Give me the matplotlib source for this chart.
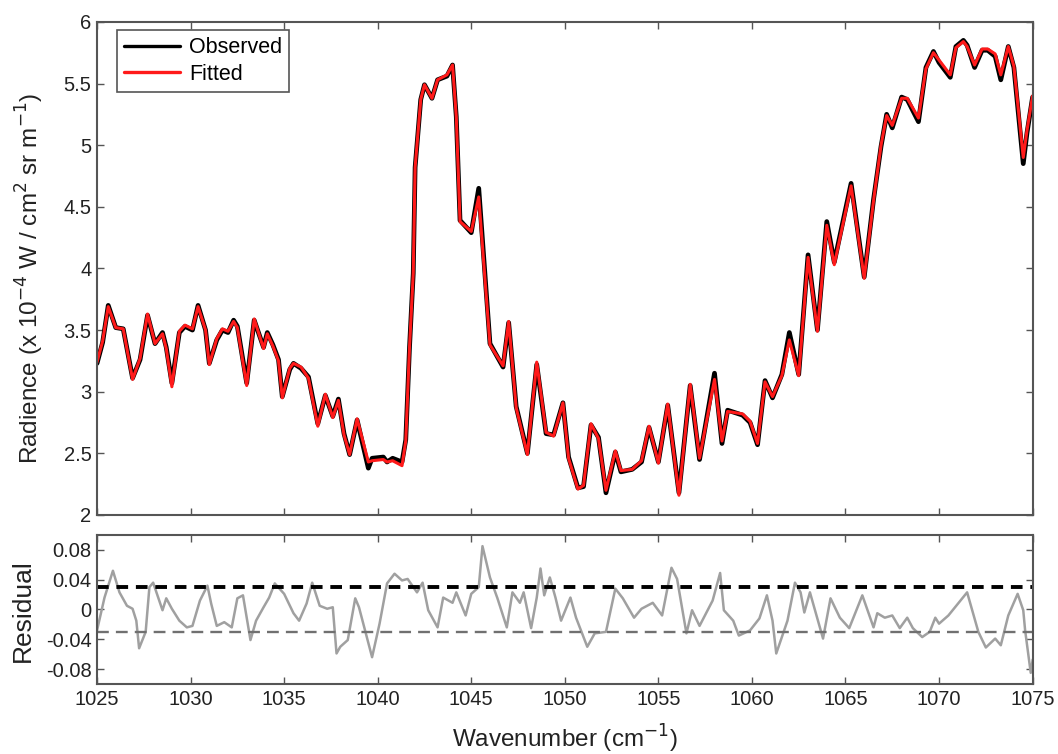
import matplotlib.pyplot as plt

plt.rcParams['font.family'] = ['Liberation Sans', 'DejaVu Sans']

# spectrum (wavenumber in cm^-1, radiance in 1e-4 W / cm^2 sr m^-1)
wn = [1025.0, 1025.3, 1025.6, 1026.0, 1026.4, 1026.9, 1027.3, 1027.7, 1028.1, 1028.5,
      1028.7, 1029.0, 1029.4, 1029.7, 1030.1, 1030.4, 1030.8, 1031.0, 1031.4, 1031.7,
      1032.0, 1032.3, 1032.5, 1033.0, 1033.4, 1033.9, 1034.1, 1034.4, 1034.7, 1034.9,
      1035.3, 1035.5, 1035.9, 1036.3, 1036.8, 1037.2, 1037.6, 1037.9, 1038.2, 1038.5,
      1038.9, 1039.5, 1039.7, 1040.3, 1040.5, 1040.8, 1041.3, 1041.5, 1041.7, 1041.9,
      1042.0, 1042.3, 1042.5, 1042.9, 1043.2, 1043.7, 1044.0, 1044.2, 1044.4, 1045.0,
      1045.4, 1046.0, 1046.7, 1047.0, 1047.4, 1048.0, 1048.5, 1049.0, 1049.4, 1049.9,
      1050.2, 1050.7, 1051.0, 1051.4, 1051.8, 1052.2, 1052.7, 1053.0, 1053.6, 1054.1,
      1054.5, 1055.0, 1055.5, 1056.1, 1056.7, 1057.2, 1058.0, 1058.4, 1058.7, 1059.5,
      1059.9, 1060.3, 1060.7, 1061.1, 1061.6, 1062.0, 1062.5, 1063.0, 1063.5, 1064.0,
      1064.4, 1065.3, 1066.0, 1066.5, 1066.9, 1067.2, 1067.5, 1068.0, 1068.3, 1068.9,
      1069.3, 1069.7, 1070.0, 1070.6, 1070.9, 1071.3, 1071.5, 1071.9, 1072.3, 1072.6,
      1073.0, 1073.3, 1073.7, 1074.0, 1074.5, 1074.7, 1075.0]

observed = [3.23, 3.40, 3.70, 3.52, 3.51, 3.11, 3.26, 3.62, 3.39, 3.48,
            3.36, 3.07, 3.48, 3.53, 3.50, 3.70, 3.50, 3.23, 3.42, 3.50,
            3.48, 3.58, 3.53, 3.07, 3.58, 3.36, 3.48, 3.38, 3.26, 2.96,
            3.18, 3.23, 3.19, 3.12, 2.74, 2.97, 2.80, 2.94, 2.66, 2.49,
            2.77, 2.38, 2.46, 2.47, 2.43, 2.46, 2.43, 2.61, 3.36, 3.96,
            4.82, 5.37, 5.49, 5.38, 5.53, 5.56, 5.65, 5.23, 4.39, 4.29,
            4.65, 3.39, 3.20, 3.56, 2.88, 2.50, 3.22, 2.66, 2.65, 2.91,
            2.47, 2.22, 2.23, 2.73, 2.63, 2.18, 2.51, 2.35, 2.37, 2.43,
            2.71, 2.43, 2.89, 2.18, 3.05, 2.45, 3.15, 2.58, 2.85, 2.81,
            2.75, 2.57, 3.09, 2.95, 3.14, 3.48, 3.14, 4.11, 3.50, 4.38,
            4.05, 4.69, 3.93, 4.56, 4.99, 5.25, 5.14, 5.39, 5.37, 5.19,
            5.63, 5.76, 5.67, 5.55, 5.80, 5.85, 5.81, 5.63, 5.77, 5.77,
            5.72, 5.53, 5.80, 5.63, 4.85, 5.10, 5.39]

fitted = [3.24, 3.41, 3.69, 3.52, 3.51, 3.10, 3.27, 3.63, 3.39, 3.47,
          3.35, 3.04, 3.49, 3.54, 3.51, 3.69, 3.50, 3.22, 3.43, 3.51,
          3.49, 3.57, 3.52, 3.05, 3.59, 3.35, 3.47, 3.37, 3.25, 2.95,
          3.19, 3.23, 3.20, 3.11, 2.72, 2.98, 2.79, 2.93, 2.65, 2.49,
          2.78, 2.43, 2.44, 2.45, 2.43, 2.44, 2.40, 2.60, 3.36, 3.96,
          4.82, 5.37, 5.49, 5.38, 5.53, 5.57, 5.65, 5.23, 4.38, 4.30,
          4.58, 3.38, 3.21, 3.57, 2.87, 2.49, 3.24, 2.67, 2.64, 2.91,
          2.46, 2.21, 2.24, 2.74, 2.62, 2.20, 2.52, 2.36, 2.37, 2.44,
          2.72, 2.42, 2.90, 2.16, 3.06, 2.46, 3.10, 2.60, 2.84, 2.82,
          2.76, 2.58, 3.08, 2.96, 3.13, 3.42, 3.13, 4.09, 3.49, 4.35,
          4.03, 4.67, 3.92, 4.55, 5.00, 5.24, 5.16, 5.38, 5.38, 5.22,
          5.62, 5.75, 5.69, 5.57, 5.79, 5.84, 5.80, 5.65, 5.78, 5.78,
          5.74, 5.57, 5.80, 5.64, 4.90, 5.12, 5.40]

# residual
res_wn = [1025.0, 1025.4, 1025.85, 1026.2, 1026.6, 1026.9, 1027.1, 1027.25, 1027.6, 1027.8,
          1028.0, 1028.5, 1028.7, 1029.0, 1029.4, 1029.8, 1030.1, 1030.5, 1030.9, 1031.1,
          1031.4, 1031.8, 1032.2, 1032.5, 1032.8, 1033.2, 1033.5, 1033.9, 1034.2, 1034.5,
          1035.0, 1035.5, 1035.8, 1036.2, 1036.5, 1036.9, 1037.3, 1037.6, 1037.8, 1038.0,
          1038.4, 1038.8, 1039.0, 1039.7, 1040.1, 1040.5, 1040.9, 1041.3, 1041.6, 1042.1,
          1042.4, 1042.7, 1043.2, 1043.5, 1044.0, 1044.2, 1044.7, 1045.0, 1045.4, 1045.6,
          1046.0, 1046.4, 1046.9, 1047.2, 1047.6, 1047.8, 1048.2, 1048.5, 1048.7, 1048.9,
          1049.2, 1049.5, 1049.8, 1050.3, 1050.6, 1051.2, 1051.6, 1052.2, 1052.7, 1053.1,
          1053.7, 1054.1, 1054.7, 1055.2, 1055.7, 1056.0, 1056.5, 1056.8, 1057.2, 1057.9,
          1058.3, 1058.5, 1059.0, 1059.3, 1059.9, 1060.4, 1060.8, 1061.1, 1061.3, 1061.9,
          1062.3, 1062.6, 1062.8, 1063.1, 1063.8, 1064.2, 1064.7, 1065.2, 1065.9, 1066.5,
          1066.7, 1067.1, 1067.5, 1067.9, 1068.3, 1068.6, 1069.1, 1069.5, 1069.8, 1070.0,
          1070.5, 1071.5, 1072.1, 1072.5, 1073.0, 1073.3, 1073.7, 1074.2, 1074.5, 1074.6,
          1074.9, 1075.0]

residual = [-0.028, 0.016, 0.052, 0.023, 0.005, 0.001, -0.015, -0.052, -0.030, 0.030,
            0.036, -0.001, 0.015, 0.001, -0.015, -0.024, -0.022, 0.012, 0.032, 0.008,
            -0.022, -0.017, -0.024, 0.015, 0.019, -0.041, -0.015, 0.003, 0.016, 0.035,
            0.021, -0.005, -0.015, 0.008, 0.036, 0.005, 0.001, 0.003, -0.059, -0.050,
            -0.041, 0.015, 0.003, -0.064, -0.019, 0.035, 0.048, 0.039, 0.041, 0.023,
            0.036, -0.001, -0.024, 0.016, 0.009, 0.023, -0.008, 0.021, 0.030, 0.085,
            0.043, 0.015, -0.024, 0.023, 0.009, 0.023, -0.025, 0.016, 0.055, 0.019,
            0.043, 0.016, -0.015, 0.016, -0.011, -0.050, -0.032, -0.030, 0.028, 0.015,
            -0.011, 0.001, 0.009, -0.008, 0.056, 0.041, -0.032, -0.001, -0.022, 0.012,
            0.049, -0.001, -0.015, -0.035, -0.028, -0.012, 0.019, -0.015, -0.059, -0.015,
            0.036, 0.023, -0.004, 0.023, -0.039, 0.015, -0.011, -0.025, 0.019, -0.024,
            -0.005, -0.011, -0.008, -0.025, -0.011, -0.025, -0.037, -0.030, -0.011, -0.019,
            -0.008, 0.023, -0.030, -0.051, -0.039, -0.048, -0.008, 0.021, -0.001, -0.028,
            -0.085, -0.068]

upper_lim = 0.03
lower_lim = -0.03

x_ticks = [1025, 1030, 1035, 1040, 1045, 1050, 1055, 1060, 1065, 1070, 1075]
rad_ticks = [2, 2.5, 3, 3.5, 4, 4.5, 5, 5.5, 6]
rad_labels = ['2', '2.5', '3', '3.5', '4', '4.5', '5', '5.5', '6']
res_ticks = [-0.08, -0.04, 0, 0.04, 0.08]
res_labels = ['-0.08', '-0.04', '0', '0.04', '0.08']

spine_col = '#555555'
txt_col = '#222222'
fig = plt.figure(figsize=(10.58, 7.54), dpi=100)
ax1 = fig.add_axes([0.0917, 0.317, 0.8843, 0.654])
ax2 = fig.add_axes([0.0917, 0.0928, 0.8843, 0.1977])

ax1.plot(wn, observed, color='black', lw=3.4, label='Observed',
         solid_joinstyle='round', solid_capstyle='round')
ax1.plot(wn, fitted, color='#ff1a1a', lw=2.2, label='Fitted',
         solid_joinstyle='round', solid_capstyle='round')
ax1.set_xlim(1025, 1075)
ax1.set_ylim(2, 6)
ax1.set_xticks(x_ticks)
ax1.set_xticklabels([])
ax1.set_yticks(rad_ticks)
ax1.set_yticklabels(rad_labels)
ax1.set_ylabel(r'Radience (x 10$^{-4}$ W / cm$^{2}$ sr m$^{-1}$)', fontsize=17.5, color=txt_col)
leg = ax1.legend(loc='upper left', fontsize=15.5, fancybox=False, framealpha=1,
                 borderpad=0.35, handlelength=2.6, handletextpad=0.4, labelspacing=0.25,
                 borderaxespad=0, bbox_to_anchor=(0.021, 0.984))
leg.get_frame().set_edgecolor(spine_col)
leg.get_frame().set_linewidth(1.2)
for line in leg.get_lines():
    line.set_linewidth(2.4)

ax2.plot(res_wn, residual, color='#a0a0a0', lw=1.8, solid_joinstyle='round')
ax2.axhline(upper_lim, color='black', lw=2.8, linestyle=(0, (3, 2)))
ax2.axhline(lower_lim, color='#707070', lw=1.7, linestyle=(0, (5, 3)))
ax2.set_xlim(1025, 1075)
ax2.set_ylim(-0.1, 0.1)
ax2.set_xticks(x_ticks)
ax2.set_xticklabels([str(t) for t in x_ticks])
ax2.set_yticks(res_ticks)
ax2.set_yticklabels(res_labels)
ax2.set_ylabel('Residual', fontsize=19, color=txt_col)
ax2.set_xlabel(r'Wavenumber (cm$^{-1}$)', fontsize=17.5, color=txt_col)

for ax in (ax1, ax2):
    ax.tick_params(direction='in', top=True, right=True, length=5, width=1,
                   color=spine_col, labelsize=14.5, labelcolor=txt_col, pad=4)
    for s in ax.spines.values():
        s.set_color(spine_col)
        s.set_linewidth(1.5)
ax1.yaxis.set_label_coords(-0.055, 0.479)
ax2.yaxis.set_label_coords(-0.066, 0.49)
ax2.xaxis.set_label_coords(0.5, -0.26)

fig.savefig('out.png', dpi=100)
